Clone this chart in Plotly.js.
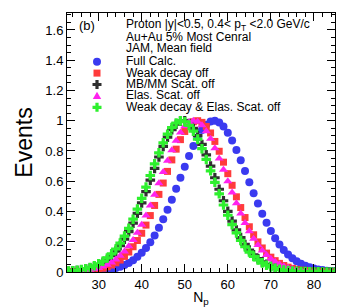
<!DOCTYPE html>
<html>
<head>
<meta charset="utf-8">
<script src="https://cdn.plot.ly/plotly-3.0.1.min.js"></script>
<style>
  html, body { margin: 0; padding: 0; background: #ffffff; }
  #chart { width: 349px; height: 307px; }
</style>
</head>
<body>
<div id="chart"></div>
<script>
// N_p values (x categories)
const nP = [23,24,25,26,27,28,29,30,31,32,
            33,34,35,36,37,38,39,40,41,42,
            43,44,45,46,47,48,49,50,51,52,
            53,54,55,56,57,58,59,60,61,62,
            63,64,65,66,67,68,69,70,71,72,
            73,74,75,76,77,78,79,80,81,82,
            83,84,85];

// Full Calc. (blue circles)
const fullCalc = [0.001,0.001,0.001,0.002,0.003,0.004,0.005,0.007,0.010,0.014,
                  0.019,0.026,0.035,0.046,0.060,0.078,0.100,0.127,0.159,0.197,
                  0.242,0.292,0.349,0.411,0.478,0.550,0.623,0.696,0.767,0.833,
                  0.891,0.939,0.974,0.995,1.000,0.988,0.962,0.921,0.869,0.807,
                  0.739,0.667,0.594,0.521,0.452,0.385,0.325,0.271,0.223,0.182,
                  0.145,0.116,0.091,0.071,0.054,0.041,0.031,0.023,0.017,0.013,
                  0.009,0.006,0.005];

// Weak decay off (red squares)
const weakDecayOff = [0.0015,0.0022,0.0032,0.0046,0.0067,0.0094,0.013,0.018,0.025,0.034,
                      0.046,0.061,0.079,0.103,0.132,0.167,0.208,0.256,0.310,0.373,
                      0.440,0.513,0.588,0.665,0.741,0.812,0.875,0.929,0.968,0.993,
                      1.000,0.989,0.962,0.919,0.863,0.798,0.726,0.650,0.573,0.497,
                      0.426,0.360,0.299,0.246,0.199,0.159,0.125,0.098,0.075,0.057,
                      0.043,0.032,0.0235,0.0171,0.0122,0.0087,0.0062,0.0043,0.0030,0.0020,
                      0.0014,0.0009,0.0006];

// MB/MM Scat. off (black crosses)
const mbmmScatOff = [0.0048,0.0069,0.0098,0.0137,0.019,0.026,0.036,0.048,0.063,0.083,
                     0.108,0.138,0.174,0.217,0.267,0.323,0.388,0.457,0.531,0.607,
                     0.685,0.760,0.830,0.891,0.941,0.977,0.997,0.999,0.982,0.950,
                     0.902,0.843,0.774,0.700,0.623,0.547,0.471,0.401,0.336,0.278,
                     0.227,0.182,0.145,0.113,0.088,0.067,0.0505,0.0378,0.0279,0.0204,
                     0.0148,0.0105,0.0074,0.0052,0.0036,0.0025,0.0017,0.0011,0.0008,0.0005,
                     0.0003,0.0002,0.0001];

// Elas. Scat. off (magenta triangles)
const elasScatOff = [0.0025,0.0037,0.0052,0.0074,0.0103,0.0143,0.0198,0.027,0.036,0.048,
                     0.063,0.083,0.107,0.135,0.170,0.211,0.259,0.313,0.374,0.440,
                     0.511,0.586,0.661,0.735,0.805,0.868,0.922,0.963,0.990,1.000,
                     0.993,0.970,0.931,0.880,0.818,0.750,0.676,0.600,0.526,0.454,
                     0.387,0.324,0.269,0.220,0.178,0.142,0.112,0.087,0.067,0.051,
                     0.0385,0.0285,0.0210,0.0154,0.0111,0.0080,0.0056,0.0039,0.0027,0.0019,
                     0.0013,0.0009,0.0006];

// Weak decay & Elas. Scat. off (green crosses)
const weakElasOff = [0.0056,0.0081,0.0114,0.0158,0.0218,0.030,0.041,0.054,0.071,0.093,
                     0.120,0.152,0.191,0.237,0.289,0.349,0.416,0.487,0.561,0.638,
                     0.715,0.788,0.854,0.911,0.955,0.985,0.999,0.993,0.969,0.931,
                     0.878,0.815,0.744,0.669,0.593,0.517,0.443,0.375,0.313,0.258,
                     0.209,0.167,0.132,0.103,0.080,0.060,0.045,0.034,0.025,0.018,
                     0.013,0.0093,0.0065,0.0045,0.0031,0.0022,0.0015,0.0010,0.0007,0.0004,
                     0.0003,0.0002,0.0001];

const seriesNames = ["Full Calc.", "Weak decay off", "MB/MM Scat. off", "Elas. Scat. off", "Weak decay & Elas. Scat. off"];
const headerLines = ["Proton |y|<0.5, 0.4< p<sub>T</sub> <2.0 GeV/c", "Au+Au 5% Most Cenral", "JAM, Mean field"];

const FONT = "Liberation Sans, Arial, Helvetica, sans-serif";

const styles = [
  {color: "#3a3af0", symbol: "circle", size: 8},
  {color: "#ff3b3b", symbol: "square", size: 7},
  {color: "#303030", symbol: "cross", size: 8},
  {color: "#ff22ee", symbol: "triangle-up", size: 8},
  {color: "#2ef02e", symbol: "cross", size: 8}
];
const seriesData = [fullCalc, weakDecayOff, mbmmScatOff, elasScatOff, weakElasOff];

const traces = seriesData.map((ys, i) => ({
  type: "scatter",
  mode: "markers",
  x: nP,
  y: ys,
  name: seriesNames[i],
  marker: {color: styles[i].color, symbol: styles[i].symbol, size: styles[i].size, line: {width: 0}},
  cliponaxis: true,
  showlegend: false
}));

// geometry helpers for legend placement (paper coords)
const L = 67, T = 13, W = 349 - 67 - 14, H = 307 - 13 - 35;
const px2x = px => (px - L) / W;
const px2y = py => (T + H - py) / H;

const annotations = [];
annotations.push({text: "(b)", xref: "paper", yref: "paper", x: px2x(77), y: px2y(25),
  xanchor: "left", yanchor: "middle", showarrow: false, font: {family: FONT, size: 13, color: "#000"}});
const headerY = [25, 37, 48];
headerLines.forEach((t, i) => annotations.push({text: t, xref: "paper", yref: "paper",
  x: px2x(124), y: px2y(headerY[i]), xanchor: "left", yanchor: "middle", showarrow: false,
  font: {family: FONT, size: 12, color: "#000"}}));
const legY = [61.7, 73.1, 84.5, 95.9, 107.3];
seriesNames.forEach((t, i) => annotations.push({text: t, xref: "paper", yref: "paper",
  x: px2x(124), y: px2y(legY[i] - 0.5), xanchor: "left", yanchor: "middle", showarrow: false,
  font: {family: FONT, size: 12, color: "#000"}}));

const mx = px2x(97);
const crossPath = "M-1.6,-4.5 H1.6 V-1.6 H4.5 V1.6 H1.6 V4.5 H-1.6 V1.6 H-4.5 V-1.6 H-1.6 Z";
const shapes = [
  {type: "circle", xref: "paper", yref: "paper", xsizemode: "pixel", ysizemode: "pixel",
   xanchor: mx, yanchor: px2y(legY[0]), x0: -4, x1: 4, y0: -4, y1: 4,
   fillcolor: styles[0].color, line: {width: 0}},
  {type: "rect", xref: "paper", yref: "paper", xsizemode: "pixel", ysizemode: "pixel",
   xanchor: mx, yanchor: px2y(legY[1]), x0: -3.5, x1: 3.5, y0: -3.5, y1: 3.5,
   fillcolor: styles[1].color, line: {width: 0}},
  {type: "path", xref: "paper", yref: "paper", xsizemode: "pixel", ysizemode: "pixel",
   xanchor: mx, yanchor: px2y(legY[2]), path: crossPath,
   fillcolor: styles[2].color, line: {width: 0}},
  {type: "path", xref: "paper", yref: "paper", xsizemode: "pixel", ysizemode: "pixel",
   xanchor: mx, yanchor: px2y(legY[3]), path: "M-4.2,-3.2 L4.2,-3.2 L0,4.2 Z",
   fillcolor: styles[3].color, line: {width: 0}},
  {type: "path", xref: "paper", yref: "paper", xsizemode: "pixel", ysizemode: "pixel",
   xanchor: mx, yanchor: px2y(legY[4]), path: crossPath,
   fillcolor: styles[4].color, line: {width: 0}}
];

const axisCommon = {
  showline: true, linecolor: "#000", linewidth: 1, mirror: "allticks",
  ticks: "inside", ticklen: 8, tickwidth: 1, tickcolor: "#000",
  showgrid: false, zeroline: false,
  tickfont: {family: FONT, size: 13, color: "#000"}
};

const layout = {
  width: 349, height: 307,
  margin: {l: L, r: 14, t: T, b: 35, pad: 0},
  paper_bgcolor: "#ffffff", plot_bgcolor: "#ffffff",
  showlegend: false,
  font: {family: FONT, color: "#000"},
  xaxis: Object.assign({}, axisCommon, {
    range: [22.65, 84.9], tick0: 0, dtick: 10,
    minor: {ticks: "inside", ticklen: 4, tick0: 0, dtick: 2, tickcolor: "#000", showgrid: false},
    ticklabelstandoff: 0,
    title: {text: "N<sub>p</sub>", font: {family: FONT, size: 14, color: "#000"}, standoff: 2}
  }),
  yaxis: Object.assign({}, axisCommon, {
    range: [0, 1.712], tick0: 0, dtick: 0.2,
    minor: {ticks: "inside", ticklen: 4, tick0: 0, dtick: 0.05, tickcolor: "#000", showgrid: false},
    title: {text: "Events", font: {family: FONT, size: 23, color: "#000"}, standoff: 6}
  }),
  annotations: annotations,
  shapes: shapes
};

Plotly.newPlot("chart", traces, layout, {staticPlot: true, displayModeBar: false});
</script>
</body>
</html>
